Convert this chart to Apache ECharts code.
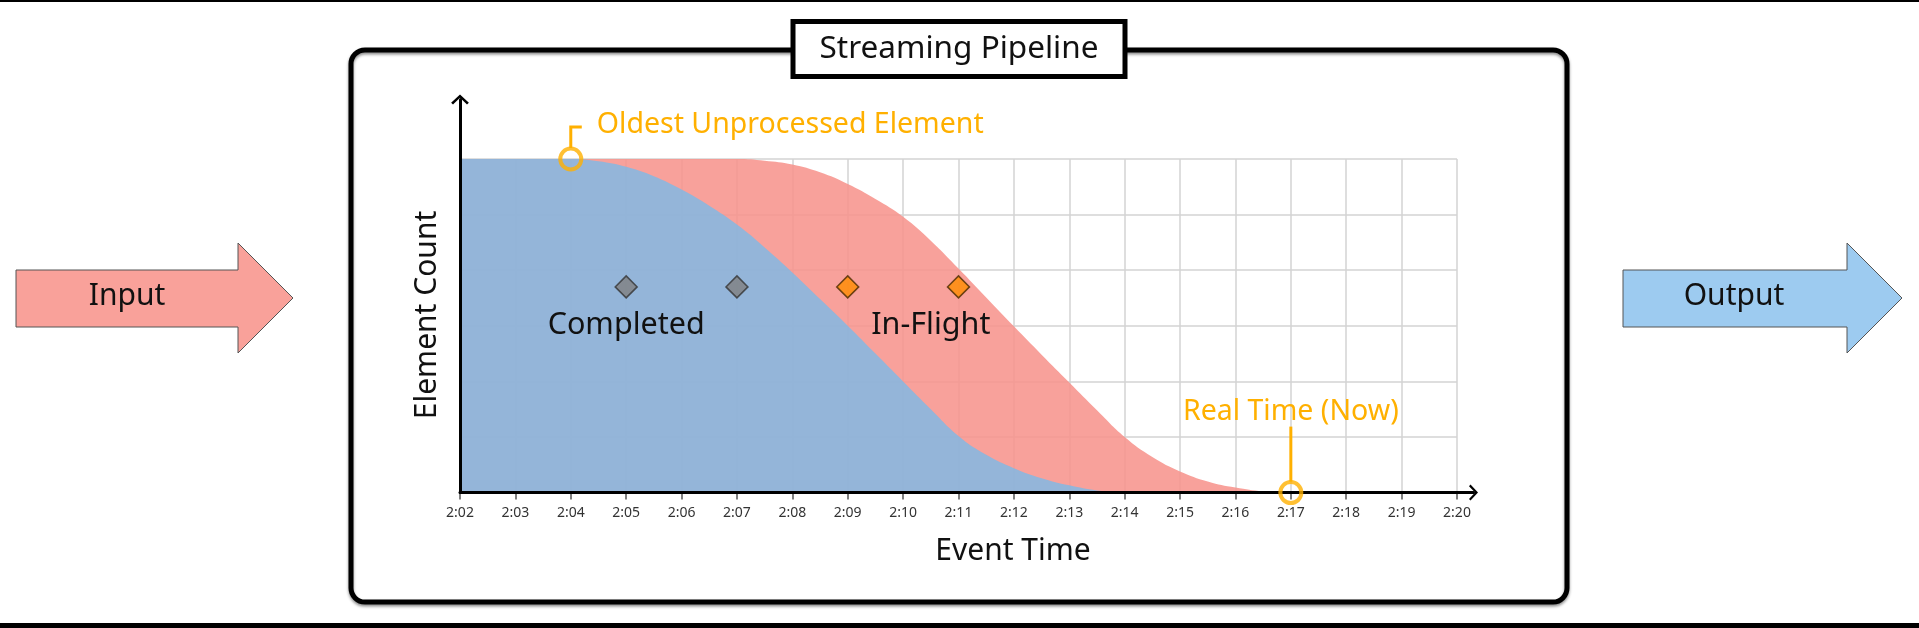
<!DOCTYPE html>
<html>
<head>
<meta charset="utf-8">
<script src="https://cdn.jsdelivr.net/npm/echarts@6/dist/echarts.min.js"></script>
<style>
html,body{margin:0;padding:0;background:#fff;}
#c{width:1919px;height:628px;}
</style>
</head>
<body>
<div id="c"></div>
<script>
// ---- data ----
const tickLabels = ['2:02','2:03','2:04','2:05','2:06','2:07','2:08','2:09','2:10','2:11','2:12','2:13','2:14','2:15','2:16','2:17','2:18','2:19','2:20'];
const completedCurve = [[2,6],[3,6],[4,6],[4.5,5.96],[5,5.86],[5.5,5.69],[6,5.45],[6.5,5.16],[7,4.82],[7.5,4.41],[8,3.96],[8.5,3.48],[9,3.0],[9.5,2.5],[10,2.0],[10.5,1.5],[11,1.02],[11.5,0.68],[12,0.44],[12.5,0.26],[13,0.13],[13.5,0.04],[14,0]];
const inFlightCurve = [[2,6],[3,6],[4,6],[5,6],[6,6],[7,6],[7.5,5.97],[8,5.9],[8.5,5.76],[9,5.55],[9.5,5.28],[10,4.96],[10.5,4.53],[11,4.03],[11.5,3.51],[12,2.99],[12.5,2.48],[13,1.98],[13.5,1.48],[14,1.0],[14.5,0.64],[15,0.38],[15.5,0.2],[16,0.09],[16.5,0.02],[16.8,0]];
const completedMarkers = [[5,3.7],[7,3.7]];
const inFlightMarkers = [[9,3.7],[11,3.7]];
const oldestUnprocessed = [[4,6]];
const realTimeNow = [[17,0]];
const regionLabels = [['Completed',5,3],['In-Flight',10.5,3]];

// ---- styles ----
const FONT = 'Noto Sans';
const ORANGE = '#FFB000';
const CHEVRON = 'path://M0,7.5 L8,0 L16,7.5 L14.3,9 L8,2.9 L1.7,9 Z';
const GRIDLINE = {color:'#d3d3d3', width:1.5};

const chart = echarts.init(document.getElementById('c'));
const option = {
  animation:false,
  backgroundColor:'#ffffff',
  grid:[
    {left:460, right:462, top:159, bottom:135.4},
    {left:460, right:445.5, top:99.5, bottom:135.4}
  ],
  xAxis:[
    {gridIndex:0, type:'value', min:2, max:20, interval:1,
     axisLine:{show:false},
     axisTick:{show:true, length:7, lineStyle:{color:'#555', width:1.5}},
     axisLabel:{margin:13, fontSize:14, color:'#333', fontFamily:FONT,
       formatter:function(v){return tickLabels[Math.round(v-2)];}},
     splitLine:{show:true, lineStyle:GRIDLINE}},
    {gridIndex:1, type:'value', min:0, max:1, z:10,
     axisLine:{show:true, onZero:false, lineStyle:{color:'#000', width:3}, symbol:['none', CHEVRON], symbolSize:[16,9]},
     axisTick:{show:false}, axisLabel:{show:false}, splitLine:{show:false}}
  ],
  yAxis:[
    {gridIndex:0, type:'value', min:0, max:6, interval:1,
     axisLine:{show:false}, axisTick:{show:false}, axisLabel:{show:false},
     splitLine:{show:true, lineStyle:GRIDLINE}},
    {gridIndex:1, type:'value', min:0, max:1, z:10,
     axisLine:{show:true, onZero:false, lineStyle:{color:'#000', width:3}, symbol:['none', CHEVRON], symbolSize:[18,10]},
     axisTick:{show:false}, axisLabel:{show:false}, splitLine:{show:false}}
  ],
  series:[
    {type:'line', xAxisIndex:0, yAxisIndex:0, data:inFlightCurve, smooth:0.45, symbol:'none',
     lineStyle:{width:0}, areaStyle:{color:'rgb(247,148,141)', opacity:0.88}, z:2, silent:true},
    {type:'line', xAxisIndex:0, yAxisIndex:0, data:completedCurve, smooth:0.45, symbol:'none',
     lineStyle:{width:0}, areaStyle:{color:'rgb(133,183,225)', opacity:0.88}, z:3, silent:true},
    {type:'scatter', xAxisIndex:0, yAxisIndex:0, data:completedMarkers, symbol:'diamond', symbolSize:22,
     itemStyle:{color:'#808080', borderColor:'#333', borderWidth:1.5}, z:5, clip:false},
    {type:'scatter', xAxisIndex:0, yAxisIndex:0, data:inFlightMarkers, symbol:'diamond', symbolSize:22,
     itemStyle:{color:'#FF8C00', borderColor:'#4a2a00', borderWidth:1.5}, z:5, clip:false},
    {type:'scatter', xAxisIndex:0, yAxisIndex:0, data:oldestUnprocessed.concat(realTimeNow), symbol:'circle', symbolSize:21,
     itemStyle:{color:'rgba(0,0,0,0)', borderColor:ORANGE, borderWidth:4}, z:12, clip:false}
  ]
};
chart.setOption(option);

function px(p){ return chart.convertToPixel({xAxisIndex:0, yAxisIndex:0}, p); }
const o = px(oldestUnprocessed[0]);
const r = px(realTimeNow[0]);
const txt = (t, x, y, size, color, align, extra) => Object.assign({type:'text', x:x, y:y, z:20,
  style:{text:t, fill:color, font:size+'px "'+FONT+'"', align:align||'center', verticalAlign:'middle'}}, extra||{});

const graphics = [
  {type:'rect', shape:{x:0,y:0,width:1919,height:2}, style:{fill:'#000'}, z:1},
  {type:'rect', shape:{x:0,y:623,width:1919,height:5}, style:{fill:'#000'}, z:1},
  {type:'rect', shape:{x:351,y:50,width:1216,height:552,r:14},
   style:{fill:'none', stroke:'#000', lineWidth:5, shadowBlur:3, shadowOffsetY:2, shadowColor:'rgba(0,0,0,0.45)'}, z:1},
  {type:'rect', shape:{x:793,y:21.5,width:332,height:55},
   style:{fill:'#fff', stroke:'#000', lineWidth:5}, z:2},
  txt('Streaming Pipeline', 959, 49, 31.5, '#111'),
  {type:'polygon', shape:{points:[[16,270],[238,270],[238,243],[293,298],[238,353],[238,327],[16,327]]},
   style:{fill:'#F9A19A', stroke:'#555', lineWidth:1}, z:1},
  {type:'polygon', shape:{points:[[1623,270],[1847,270],[1847,243],[1902,298],[1847,353],[1847,327],[1623,327]]},
   style:{fill:'#9DCBF0', stroke:'#555', lineWidth:1}, z:1},
  txt('Input', 127, 296, 30, '#111', 'center'),
  txt('Output', 1734, 296, 30, '#111', 'center'),
  txt('Element Count', 427, 315, 30, '#111', 'center', {rotation:Math.PI/2}),
  txt('Event Time', 1013, 551, 30, '#111', 'center'),
  // oldest unprocessed leader
  {type:'polyline', shape:{points:[[o[0], o[1]-11],[o[0], o[1]-32],[o[0]+11, o[1]-32]]},
   style:{stroke:ORANGE, lineWidth:3, fill:null}, z:20},
  txt('Oldest Unprocessed Element', o[0]+26, o[1]-34, 28.5, ORANGE, 'left'),
  // real time leader
  {type:'line', shape:{x1:r[0], y1:r[1]-11, x2:r[0], y2:r[1]-66}, style:{stroke:ORANGE, lineWidth:3}, z:20},
  txt('Real Time (Now)', r[0], r[1]-81, 28.5, ORANGE, 'center')
];
regionLabels.forEach(function(l){
  const p = px([l[1], l[2]]);
  graphics.push(txt(l[0], p[0], p[1], 30.5, '#111', 'center'));
});
chart.setOption({graphic:{elements:graphics}});
</script>
</body>
</html>
